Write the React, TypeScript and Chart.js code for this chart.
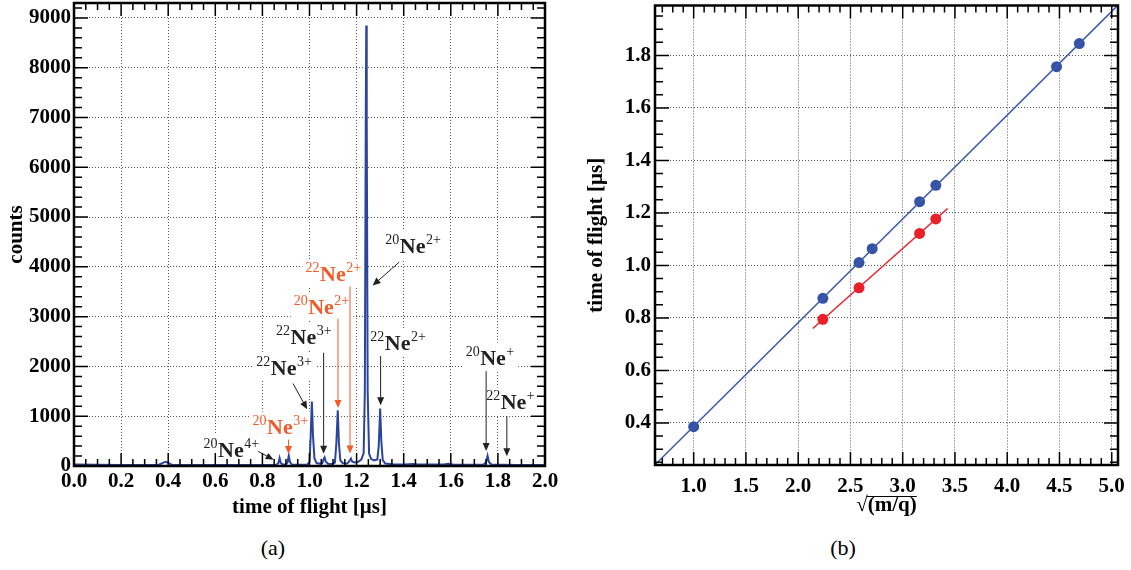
import React, { useEffect, useRef } from 'react';
import { Chart, registerables } from 'chart.js';

Chart.register(...registerables);

// ---------- Panel (a): time-of-flight spectrum ----------
const tofTime = [0.000, 0.100, 0.200, 0.300, 0.360, 0.372, 0.383, 0.393, 0.403, 0.412, 0.420, 0.500, 0.600, 0.700, 0.800, 0.860, 0.868, 0.873, 0.878, 0.886, 0.900, 0.907, 0.912, 0.917, 0.925, 0.950, 0.990, 1.000, 1.005, 1.010, 1.015, 1.021, 1.030, 1.045, 1.055, 1.060, 1.064, 1.069, 1.078, 1.095, 1.108, 1.114, 1.120, 1.125, 1.131, 1.142, 1.160, 1.170, 1.176, 1.181, 1.190, 1.205, 1.220, 1.230, 1.235, 1.239, 1.241, 1.243, 1.247, 1.253, 1.262, 1.275, 1.288, 1.294, 1.300, 1.305, 1.311, 1.322, 1.350, 1.400, 1.440, 1.460, 1.520, 1.570, 1.590, 1.610, 1.680, 1.740, 1.750, 1.756, 1.762, 1.772, 1.820, 1.880, 1.950, 2.000];
const tofCounts = [28, 25, 22, 22, 25, 50, 78, 80, 60, 30, 22, 20, 20, 20, 22, 25, 60, 160, 60, 30, 30, 80, 205, 80, 30, 25, 25, 80, 600, 1295, 600, 150, 60, 45, 60, 140, 173, 90, 45, 40, 70, 450, 1120, 450, 110, 55, 50, 100, 150, 90, 70, 80, 130, 260, 1500, 7000, 8850, 7000, 1500, 250, 140, 110, 130, 400, 1155, 500, 120, 50, 35, 30, 40, 30, 28, 30, 45, 30, 25, 30, 80, 205, 80, 30, 25, 22, 22, 20];
const tofTicks = [0.0, 0.2, 0.4, 0.6, 0.8, 1.0, 1.2, 1.4, 1.6, 1.8, 2.0];
const countTicks = [0, 1000, 2000, 3000, 4000, 5000, 6000, 7000, 8000, 9000];

// ion labels of panel (a)
const ionMass = ['20', '20', '22', '22', '20', '22', '20', '22', '20', '22'];
const ionCharge = ['4+', '3+', '3+', '3+', '2+', '2+', '2+', '2+', '+', '+'];
const ionHighlighted = [false, true, false, false, true, true, false, false, false, false];

// ---------- Panel (b): calibration ----------
const blueSqrtMq = [1.000, 2.236, 2.582, 2.708, 3.162, 3.317, 4.472, 4.690];
const blueTof = [0.386, 0.875, 1.011, 1.064, 1.243, 1.305, 1.757, 1.845];
const redSqrtMq = [2.236, 2.582, 3.162, 3.317];
const redTof = [0.795, 0.915, 1.122, 1.177];
const sqrtTicks = [1.0, 1.5, 2.0, 2.5, 3.0, 3.5, 4.0, 4.5, 5.0];
const fitTofTicks = [0.4, 0.6, 0.8, 1.0, 1.2, 1.4, 1.6, 1.8];
const blueFitRange = [0.63, 5.06];
const redFitRange = [2.14, 3.43];

// ---------- layout / style (not data) ----------
const ionPlacement = [
  { label: [0.550, 190], from: [0.782, 294], to: [0.848, 125] },
  { label: [0.758, 650], from: [0.911, 530], to: [0.911, 240] },
  { label: [0.774, 1835], from: [0.930, 1657], to: [0.990, 1140] },
  { label: [0.858, 2445], from: [1.060, 2275], to: [1.060, 245] },
  { label: [0.933, 3050], from: [1.121, 2960], to: [1.121, 1165] },
  { label: [0.983, 3715], from: [1.172, 3605], to: [1.172, 250] },
  { label: [1.322, 4285], from: [1.381, 4095], to: [1.268, 3625] },
  { label: [1.258, 2320], from: [1.302, 2207], to: [1.302, 1220] },
  { label: [1.663, 2037], from: [1.750, 1905], to: [1.750, 300] },
  { label: [1.750, 1135], from: [1.838, 1000], to: [1.838, 195] },
];

const FONT = 'Liberation Serif';
const SPEC_BLUE = '#2b449c';
const MARK_BLUE = '#3553a4';
const LINE_BLUE = '#3d5aaa';
const MARK_RED = '#e8212b';
const LABEL_RED = '#f15a29';
const LABEL_DARK = '#222';
const tickFont = { family: FONT, size: 21, weight: 'bold' as const };
const titleFont = { family: FONT, size: 21, weight: 'bold' as const };
const NE_FONT = `bold 22px "${FONT}"`;
const SUP_FONT = `14px "${FONT}"`;

function linFit(xs: number[], ys: number[]) {
  const n = xs.length;
  const mx = xs.reduce((a, b) => a + b, 0) / n;
  const my = ys.reduce((a, b) => a + b, 0) / n;
  let sxy = 0, sxx = 0;
  for (let i = 0; i < n; i++) { sxy += (xs[i] - mx) * (ys[i] - my); sxx += (xs[i] - mx) ** 2; }
  const b = sxy / sxx;
  return { a: my - b * mx, b };
}

function rootFrame(xMajor: number[], xStep: number, yMajor: number[], yStep: number) {
  return {
    id: 'rootFrame',
    afterDatasetsDraw(chart: any) {
      const { ctx, chartArea: a, scales: { x, y } } = chart;
      ctx.save();
      ctx.strokeStyle = '#000';
      ctx.lineWidth = 1.5;
      ctx.beginPath();
      for (let k = Math.ceil(x.min / xStep - 1e-6); k * xStep <= x.max + 1e-9; k++) {
        const v = k * xStep;
        const major = xMajor.some((m) => Math.abs(m - v) < xStep / 10);
        const len = major ? 13 : 7;
        const p = x.getPixelForValue(v);
        ctx.moveTo(p, a.bottom); ctx.lineTo(p, a.bottom - len);
        ctx.moveTo(p, a.top); ctx.lineTo(p, a.top + len);
      }
      for (let k = Math.ceil(y.min / yStep - 1e-6); k * yStep <= y.max + 1e-9; k++) {
        const v = k * yStep;
        const major = yMajor.some((m) => Math.abs(m - v) < yStep / 10);
        const len = major ? 14 : 8;
        const p = y.getPixelForValue(v);
        ctx.moveTo(a.left, p); ctx.lineTo(a.left + len, p);
        ctx.moveTo(a.right, p); ctx.lineTo(a.right - len, p);
      }
      ctx.stroke();
      ctx.lineWidth = 2.5;
      ctx.strokeRect(a.left, a.top, a.right - a.left, a.bottom - a.top);
      ctx.restore();
    },
  };
}

function measureIon(ctx: CanvasRenderingContext2D, i: number) {
  ctx.font = SUP_FONT;
  const wm = ctx.measureText(ionMass[i]).width;
  const wc = ctx.measureText(ionCharge[i]).width;
  ctx.font = NE_FONT;
  const wn = ctx.measureText('Ne').width;
  return { wm, wn, wc };
}

const ionLabels = {
  id: 'ionLabels',
  beforeDatasetsDraw(chart: any) {
    const { ctx, scales: { x, y } } = chart;
    ctx.save();
    ctx.fillStyle = '#fff';
    ionMass.forEach((_, i) => {
      const p = ionPlacement[i];
      const px = x.getPixelForValue(p.label[0]);
      const py = y.getPixelForValue(p.label[1]);
      const { wm, wn, wc } = measureIon(ctx, i);
      ctx.fillRect(px - 3, py - 22, wm + wn + wc + 8, 28);
    });
    ctx.restore();
  },
  afterDatasetsDraw(chart: any) {
    const { ctx, scales: { x, y } } = chart;
    ctx.save();
    ctx.textAlign = 'left';
    ctx.textBaseline = 'alphabetic';
    ionMass.forEach((m, i) => {
      const p = ionPlacement[i];
      const color = ionHighlighted[i] ? LABEL_RED : LABEL_DARK;
      const px = x.getPixelForValue(p.label[0]);
      const py = y.getPixelForValue(p.label[1]);
      const { wm, wn } = measureIon(ctx, i);
      ctx.fillStyle = color;
      ctx.font = SUP_FONT;
      ctx.fillText(m, px, py - 9);
      ctx.font = NE_FONT;
      ctx.fillText('Ne', px + wm + 0.5, py);
      ctx.font = SUP_FONT;
      ctx.fillText(ionCharge[i], px + wm + wn + 1, py - 9);
      // arrow
      const x1 = x.getPixelForValue(p.from[0]);
      const y1 = y.getPixelForValue(p.from[1]);
      const x2 = x.getPixelForValue(p.to[0]);
      const y2 = y.getPixelForValue(p.to[1]);
      const ang = Math.atan2(y2 - y1, x2 - x1);
      const hl = 8, hw = 3.5;
      ctx.strokeStyle = color;
      ctx.lineWidth = 1;
      ctx.beginPath();
      ctx.moveTo(x1, y1);
      ctx.lineTo(x2 - Math.cos(ang) * hl * 0.8, y2 - Math.sin(ang) * hl * 0.8);
      ctx.stroke();
      ctx.beginPath();
      ctx.moveTo(x2, y2);
      ctx.lineTo(x2 - Math.cos(ang) * hl - Math.sin(ang) * hw, y2 - Math.sin(ang) * hl + Math.cos(ang) * hw);
      ctx.lineTo(x2 - Math.cos(ang) * hl + Math.sin(ang) * hw, y2 - Math.sin(ang) * hl - Math.cos(ang) * hw);
      ctx.closePath();
      ctx.fillStyle = color;
      ctx.fill();
    });
    ctx.restore();
  },
};

// bar over the radicand of the x-axis title of panel (b)
const radicalBar = {
  id: 'radicalBar',
  afterDraw(chart: any) {
    const { ctx, scales: { x } } = chart;
    const tf = x.options.title;
    const size = titleFont.size;
    const lh = size * 1.2;
    const cy = x.bottom - lh / 2 - tf.padding.bottom;
    const cx = (x.left + x.right) / 2;
    ctx.save();
    ctx.font = `bold ${size}px "${FONT}"`;
    const total = ctx.measureText(tf.text).width;
    const wr = ctx.measureText('√').width;
    const x0 = cx - total / 2 + wr - 1;
    const x1 = cx + total / 2;
    const by = Math.round(cy - size * 0.45) + 0.5;
    ctx.strokeStyle = '#000';
    ctx.lineWidth = 1.2;
    ctx.beginPath();
    ctx.moveTo(x0, by);
    ctx.lineTo(x1, by);
    ctx.stroke();
    ctx.restore();
  },
};

function fixedScale(size: number, horizontal: boolean) {
  return (s: any) => {
    if (horizontal) s.height = size; else s.width = size;
    s.paddingLeft = 0; s.paddingRight = 0; s.paddingTop = 0; s.paddingBottom = 0;
  };
}

const gridOpts = { color: '#555', lineWidth: 1, drawTicks: false };
const borderOpts = { display: false, dash: [1, 2] };

function spectrumConfig(): any {
  return {
    type: 'line',
    data: {
      datasets: [{
        data: tofTime.map((t, i) => ({ x: t, y: tofCounts[i] })),
        borderColor: SPEC_BLUE,
        borderWidth: 2,
        pointRadius: 0,
        tension: 0,
        fill: false,
      }],
    },
    options: {
      animation: false,
      responsive: false,
      layout: { padding: { left: 0, right: 15, top: 3, bottom: 0 } },
      plugins: { legend: { display: false }, tooltip: { enabled: false } },
      scales: {
        x: {
          type: 'linear', min: 0, max: 2,
          afterBuildTicks: (s: any) => { s.ticks = tofTicks.map((v) => ({ value: v })); },
          afterFit: fixedScale(54, true),
          grid: gridOpts, border: borderOpts,
          ticks: { font: tickFont, color: '#000', padding: 3, maxRotation: 0, autoSkip: false, callback: (v: any) => Number(v).toFixed(1) },
          title: { display: true, text: 'time of flight [μs]', font: titleFont, color: '#000', padding: { top: 0, bottom: 0 } },
        },
        y: {
          type: 'linear', min: 0, max: 9300,
          afterBuildTicks: (s: any) => { s.ticks = countTicks.map((v) => ({ value: v })); },
          afterFit: fixedScale(74, false),
          grid: gridOpts, border: borderOpts,
          ticks: { font: tickFont, color: '#000', padding: 3, autoSkip: false, callback: (v: any) => String(v) },
          title: { display: true, text: 'counts', font: titleFont, color: '#000', padding: { top: 4, bottom: 0 } },
        },
      },
    },
    plugins: [ionLabels, rootFrame(tofTicks, 0.05, countTicks, 200)],
  };
}

function calibConfig(): any {
  const bf = linFit(blueSqrtMq, blueTof);
  const rf = linFit(redSqrtMq, redTof);
  return {
    type: 'scatter',
    data: {
      datasets: [
        {
          data: blueFitRange.map((v) => ({ x: v, y: bf.a + bf.b * v })),
          showLine: true, borderColor: LINE_BLUE, borderWidth: 1.5, pointRadius: 0,
        },
        {
          data: redFitRange.map((v) => ({ x: v, y: rf.a + rf.b * v })),
          showLine: true, borderColor: MARK_RED, borderWidth: 1.5, pointRadius: 0,
        },
        {
          data: blueSqrtMq.map((v, i) => ({ x: v, y: blueTof[i] })),
          pointRadius: 5.5, backgroundColor: MARK_BLUE, borderWidth: 0,
        },
        {
          data: redSqrtMq.map((v, i) => ({ x: v, y: redTof[i] })),
          pointRadius: 5.5, backgroundColor: MARK_RED, borderWidth: 0,
        },
      ],
    },
    options: {
      animation: false,
      responsive: false,
      layout: { padding: { left: 0, right: 13, top: 3, bottom: 0 } },
      plugins: { legend: { display: false }, tooltip: { enabled: false } },
      scales: {
        x: {
          type: 'linear', min: 0.63, max: 5.06,
          afterBuildTicks: (s: any) => { s.ticks = sqrtTicks.map((v) => ({ value: v })); },
          afterFit: fixedScale(55, true),
          grid: gridOpts, border: borderOpts,
          ticks: { font: tickFont, color: '#000', padding: 9, maxRotation: 0, autoSkip: false, callback: (v: any) => Number(v).toFixed(1) },
          title: { display: true, text: '√(m/q)', font: titleFont, color: '#000', padding: { top: 0, bottom: 2 } },
        },
        y: {
          type: 'linear', min: 0.24, max: 1.99,
          afterBuildTicks: (s: any) => { s.ticks = fitTofTicks.map((v) => ({ value: v })); },
          afterFit: fixedScale(95, false),
          grid: gridOpts, border: borderOpts,
          ticks: { font: tickFont, color: '#000', padding: 4, autoSkip: false, callback: (v: any) => Number(v).toFixed(1) },
          title: { display: true, text: 'time of flight [μs]', font: titleFont, color: '#000', padding: { top: 24, bottom: 0 } },
        },
      },
    },
    plugins: [rootFrame(sqrtTicks, 0.1, fitTofTicks, 0.05), radicalBar],
  };
}

export default function App() {
  const leftRef = useRef<HTMLCanvasElement>(null);
  const rightRef = useRef<HTMLCanvasElement>(null);
  useEffect(() => {
    document.body.style.margin = '0';
    const c1 = new Chart(leftRef.current!, spectrumConfig());
    const c2 = new Chart(rightRef.current!, calibConfig());
    return () => { c1.destroy(); c2.destroy(); };
  }, []);
  const cap: React.CSSProperties = {
    position: 'absolute', top: 535, width: 100, textAlign: 'center',
    fontFamily: FONT, fontSize: 22, lineHeight: '26px', color: '#000',
  };
  return (
    <div style={{ position: 'relative', width: 1131, height: 570, background: '#fff', overflow: 'hidden' }}>
      <canvas ref={leftRef} width={560} height={520} style={{ position: 'absolute', left: 0, top: 0 }} />
      <canvas ref={rightRef} width={571} height={520} style={{ position: 'absolute', left: 560, top: 0 }} />
      <div style={{ ...cap, left: 223 }}>(a)</div>
      <div style={{ ...cap, left: 793 }}>(b)</div>
    </div>
  );
}
